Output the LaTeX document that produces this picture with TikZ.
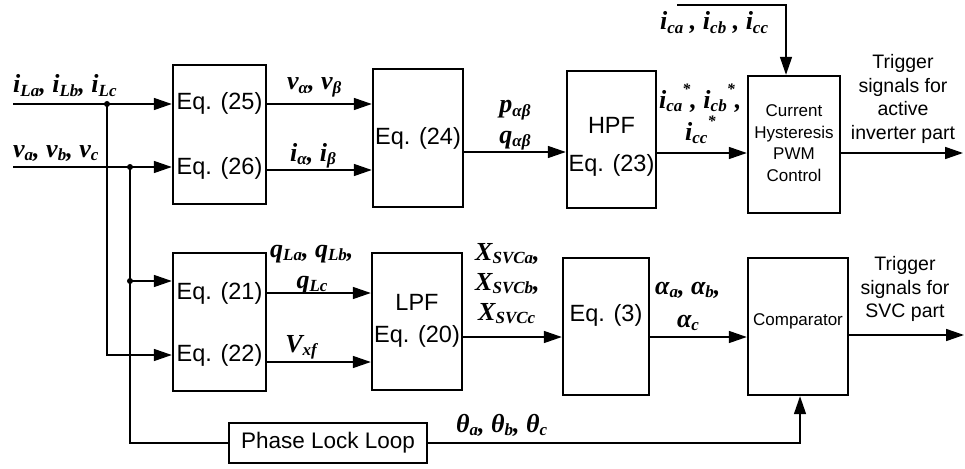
\documentclass[tikz,border=0pt]{standalone}
\usepackage{fontspec}
\setmainfont{Liberation Sans}
\newfontfamily\labfont{Liberation Serif}
\usetikzlibrary{arrows.meta}
\newcommand\lsb[1]{\raisebox{-0.3ex}{\fontsize{17}{17}\selectfont #1}}
\newcommand\lsp[1]{\raisebox{1.1ex}{\fontsize{16}{16}\selectfont #1}}
\tikzset{
  blk/.style={draw, line width=2.4pt, inner sep=0pt},
  con/.style={line width=1.6pt},
  arr/.style={-{Triangle[length=18pt,width=12pt]}},
  eqt/.style={inner sep=0pt, font=\fontsize{23.5}{23.5}\selectfont},
  smt/.style={inner sep=0pt, align=center, font=\fontsize{17}{21.5}\selectfont},
  trg/.style={inner sep=0pt, align=center, font=\fontsize{19.5}{23.5}\selectfont},
  lab/.style={inner sep=0pt, font=\labfont\bfseries\itshape\fontsize{26}{26}\selectfont},
  dot/.style={fill, radius=3pt}
}
\begin{document}
\begin{tikzpicture}[x=1pt,y=-1pt]
\useasboundingbox (0,0) rectangle (965,468);
% blocks
\node[blk, minimum width=93pt, minimum height=139pt] (b1) at (219.5,134.5) {};
\node[blk, minimum width=90pt, minimum height=138pt] (b2) at (418,138) {};
\node[blk, minimum width=89pt, minimum height=137pt] (hpf) at (611.5,139.5) {};
\node[blk, minimum width=92pt, minimum height=137pt] (chp) at (794,144.5) {};
\node[blk, minimum width=93pt, minimum height=138pt] (b3) at (219.5,322) {};
\node[blk, minimum width=90pt, minimum height=137pt] (lpf) at (417,321.5) {};
\node[blk, minimum width=86pt, minimum height=137pt] (eq3) at (606,326.5) {};
\node[blk, minimum width=100pt, minimum height=137pt] (cmp) at (798,326.5) {};
\node[blk, minimum width=198pt, minimum height=40pt, font=\fontsize{22.5}{22.5}\selectfont] (pll) at (328,443) {Phase Lock Loop};
% block texts
\node[eqt] (t25) at (219.5,103) {Eq. (25)};
\node[eqt] (t26) at (219.5,168) {Eq. (26)};
\node[eqt] (t24) at (418,138) {Eq. (24)};
\node[eqt] (thpf) at (611.5,125) {HPF};
\node[eqt] (t23) at (611.5,165) {Eq. (23)};
\node[smt] (tchp) at (794,143) {Current\\Hysteresis\\PWM\\Control};
\node[eqt] (t21) at (219.5,293) {Eq. (21)};
\node[eqt] (t22) at (219.5,355) {Eq. (22)};
\node[eqt] (tlpf) at (417,302) {LPF};
\node[eqt] (t20) at (417,336) {Eq. (20)};
\node[eqt] (t3) at (606,315) {Eq. (3)};
\node[smt] (tcmp) at (798,321) {Comparator};
\node[trg] (trg1) at (903,99) {Trigger\\signals for\\active\\inverter part};
\node[trg] (trg2) at (905,289) {Trigger\\signals for\\SVC part};
% coordinates
\coordinate (iLin) at (13,104);
\coordinate (vin) at (13,167);
\coordinate (dA) at (107,104);
\coordinate (dB) at (130,167);
\coordinate (dC) at (130,281);
\coordinate (icin) at (677,5);
\coordinate (o1) at (963,153);
\coordinate (o2) at (964,335);
% connectors
\draw[con,arr] (iLin) -- (iLin -| b1.west);
\draw[con,arr] (vin) -- (vin -| b1.west);
\draw[con,arr] (dA) |- (b3.west |- 0,355);
\draw[con] (dB) |- (pll.west);
\draw[con,arr] (dC) -- (b3.west |- dC);
\fill[dot] (dA) circle;
\fill[dot] (dB) circle;
\fill[dot] (dC) circle;
\draw[con,arr] (b1.east |- 0,104) -- (b2.west |- 0,104);
\draw[con,arr] (b1.east |- 0,170) -- (b2.west |- 0,170);
\draw[con,arr] (b2.east |- 0,152) -- (hpf.west |- 0,152);
\draw[con,arr] (hpf.east |- 0,153) -- (chp.west |- 0,153);
\draw[con,arr] (icin) -| (chp.north -| 786,0);
\draw[con,arr] (chp.east |- o1) -- (o1);
\draw[con,arr] (b3.east |- 0,293) -- (lpf.west |- 0,293);
\draw[con,arr] (b3.east |- 0,362) -- (lpf.west |- 0,362);
\draw[con,arr] (lpf.east |- 0,337) -- (eq3.west |- 0,337);
\draw[con,arr] (eq3.east |- 0,337) -- (cmp.west |- 0,337);
\draw[con,arr] (cmp.east |- o2) -- (o2);
\draw[con,arr] (pll.east) -| (cmp.south -| 800,0);
% labels
\node[lab, anchor=base west] (lI) at (13,93) {i\lsb{La}, i\lsb{Lb}, i\lsb{Lc}};
\node[lab, anchor=base west] (lV) at (13,157) {v\lsb{a}, v\lsb{b}, v\lsb{c}};
\node[lab, anchor=base west] (lva) at (287,90) {v\lsb{α}, v\lsb{β}};
\node[lab, anchor=base west] (lia) at (290,161) {i\lsb{α}, i\lsb{β}};
\node[lab, anchor=base] (lp) at (515,113) {p\lsb{αβ}};
\node[lab, anchor=base] (lq) at (515,143) {q\lsb{αβ}};
\node[lab, anchor=base west] (lic) at (660,30) {i\lsb{ca} , i\lsb{cb} , i\lsb{cc}};
\node[lab, anchor=base west] (lics) at (659,108) {i\lsb{ca}\lsp{*}, i\lsb{cb}\lsp{*},};
\node[lab, anchor=base west] (lics2) at (685,140) {i\lsb{cc}\lsp{*}};
\node[lab, anchor=base west] (lqL) at (270,257) {q\lsb{La}, q\lsb{Lb},};
\node[lab, anchor=base] (lqc) at (312,288) {q\lsb{Lc}};
\node[lab, anchor=base] (lvxf) at (301,352) {V\lsb{xf}};
\node[lab, anchor=base west] (lxa) at (475,260) {X\lsb{SVCa},};
\node[lab, anchor=base west] (lxb) at (475,290) {X\lsb{SVCb},};
\node[lab, anchor=base west] (lxc) at (478,320) {X\lsb{SVCc}};
\node[lab, anchor=base west] (lal) at (655,294) {α\lsb{a}, α\lsb{b},};
\node[lab, anchor=base] (lalc) at (688,327) {α\lsb{c}};
\node[lab, anchor=base west] (lth) at (456,432) {θ\lsb{a}, θ\lsb{b}, θ\lsb{c}};
\end{tikzpicture}
\end{document}
